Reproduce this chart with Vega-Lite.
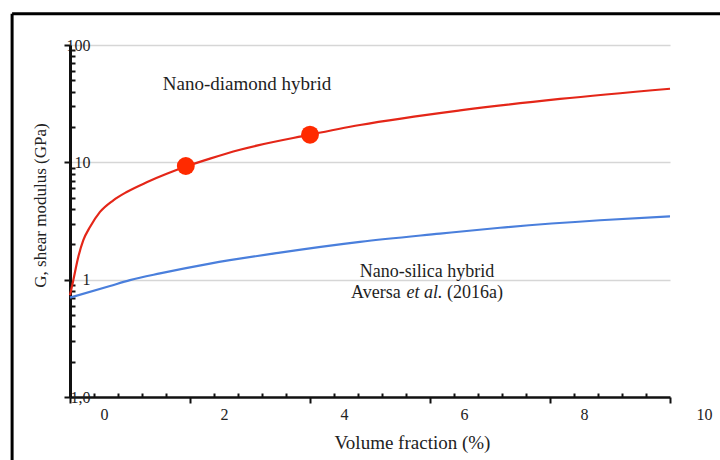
{
  "$schema": "https://vega.github.io/schema/vega-lite/v6.json",
  "width": 600,
  "height": 352,
  "autosize": {"type": "none"},
  "padding": {"left": 70, "top": 45, "right": 50, "bottom": 63},
  "background": "white",
  "config": {"view": {"stroke": null}, "font": "Liberation Serif"},
  "datasets": {
    "curves": [
      {"series": "Nano-diamond hybrid", "x": 0, "G": 0.738},
      {"series": "Nano-diamond hybrid", "x": 0.055, "G": 0.99},
      {"series": "Nano-diamond hybrid", "x": 0.138, "G": 1.56},
      {"series": "Nano-diamond hybrid", "x": 0.222, "G": 2.17},
      {"series": "Nano-diamond hybrid", "x": 0.333, "G": 2.81},
      {"series": "Nano-diamond hybrid", "x": 0.5, "G": 3.78},
      {"series": "Nano-diamond hybrid", "x": 0.722, "G": 4.75},
      {"series": "Nano-diamond hybrid", "x": 0.945, "G": 5.59},
      {"series": "Nano-diamond hybrid", "x": 1.278, "G": 6.76},
      {"series": "Nano-diamond hybrid", "x": 1.612, "G": 7.98},
      {"series": "Nano-diamond hybrid", "x": 1.945, "G": 9.25},
      {"series": "Nano-diamond hybrid", "x": 2.333, "G": 10.75},
      {"series": "Nano-diamond hybrid", "x": 2.833, "G": 12.8},
      {"series": "Nano-diamond hybrid", "x": 4.0, "G": 17.2},
      {"series": "Nano-diamond hybrid", "x": 4.833, "G": 20.8},
      {"series": "Nano-diamond hybrid", "x": 6.5, "G": 27.7},
      {"series": "Nano-diamond hybrid", "x": 8.167, "G": 34.7},
      {"series": "Nano-diamond hybrid", "x": 10, "G": 42.4},
      {"series": "Nano-silica hybrid", "x": 0, "G": 0.703},
      {"series": "Nano-silica hybrid", "x": 0.667, "G": 0.883},
      {"series": "Nano-silica hybrid", "x": 1.0, "G": 0.99},
      {"series": "Nano-silica hybrid", "x": 1.5, "G": 1.13},
      {"series": "Nano-silica hybrid", "x": 2.333, "G": 1.37},
      {"series": "Nano-silica hybrid", "x": 3.5, "G": 1.7},
      {"series": "Nano-silica hybrid", "x": 4.833, "G": 2.1},
      {"series": "Nano-silica hybrid", "x": 6.167, "G": 2.47},
      {"series": "Nano-silica hybrid", "x": 7.167, "G": 2.77},
      {"series": "Nano-silica hybrid", "x": 8.833, "G": 3.21},
      {"series": "Nano-silica hybrid", "x": 10, "G": 3.47}
    ],
    "markers": [
      {"x": 1.93, "G": 9.3},
      {"x": 4.0, "G": 17.2}
    ],
    "labels": [
      {"label": "Nano-diamond hybrid", "x": 2.95, "G": 46.9}
    ],
    "labels2": [
      {"label": "Nano-silica hybrid", "x": 5.95, "G": 1.158}
    ],
    "cite": [
      {"label": "Aversa", "x": 4.683, "G": 0.768},
      {"label": "(2016a)", "x": 6.283, "G": 0.768}
    ],
    "citeItalic": [
      {"label": "et al.", "x": 5.608, "G": 0.768}
    ]
  },
  "layer": [
    {
      "encoding": {
        "x": {
          "field": "x",
          "type": "quantitative",
          "scale": {"domain": [0, 10], "nice": false, "zero": false},
          "axis": {
            "title": "Volume fraction (%)",
            "values": [0, 0.4, 0.8, 1.2, 1.6, 2, 2.4, 2.8, 3.2, 3.6, 4, 4.4, 4.8, 5.2, 5.6, 6, 6.4, 6.8, 7.2, 7.6, 8, 8.4, 8.8, 9.2, 9.6, 10],
            "labelExpr": "abs(datum.value / 2 - round(datum.value / 2)) < 0.01 ? format(datum.value, 'd') : ''",
            "labelOffset": 34,
            "labelFlush": false,
            "labelOverlap": false,
            "labelFont": "Liberation Serif",
            "labelFontSize": 16,
            "labelColor": "#222222",
            "labelPadding": 3,
            "tickSize": {"condition": {"test": "abs(datum.value / 2 - round(datum.value / 2)) < 0.01", "value": 6}, "value": -4},
            "tickColor": "#111111",
            "tickWidth": 2,
            "domainColor": "#111111",
            "domainWidth": 2.5,
            "grid": false,
            "titleFont": "Liberation Serif",
            "titleFontSize": 19,
            "titleFontWeight": "normal",
            "titleColor": "#222222",
            "titleX": 342,
            "titleY": 45,
            "titleBaseline": "middle",
            "titleAlign": "center"
          }
        },
        "y": {
          "field": "G",
          "type": "quantitative",
          "scale": {"type": "log", "domain": [0.1, 100], "nice": false},
          "axis": {
            "title": "G, shear modulus (GPa)",
            "values": [0.1, 0.2, 0.3, 0.4, 0.5, 0.6, 0.7, 0.8, 0.9, 1, 2, 3, 4, 5, 6, 7, 8, 9, 10, 20, 30, 40, 50, 60, 70, 80, 90, 100],
            "labelExpr": "datum.value == 100 ? '100' : datum.value == 10 ? '10' : datum.value == 1 ? '1' : datum.value == 0.1 ? '1,0' : ''",
            "labelAlign": "right",
            "labelBaseline": "middle",
            "labelPadding": -26,
            "labelFlush": false,
            "labelOverlap": false,
            "labelFont": "Liberation Serif",
            "labelFontSize": 16,
            "labelColor": "#222222",
            "tickSize": {"condition": {"test": "datum.value == 0.1 || datum.value == 1 || datum.value == 10 || datum.value == 100", "value": 6}, "value": -5},
            "tickColor": "#111111",
            "tickWidth": 2,
            "domainColor": "#111111",
            "domainWidth": 3,
            "grid": true,
            "gridColor": "#d6d6d6",
            "gridWidth": 1.5,
            "gridOpacity": {"condition": {"test": "datum.value == 1 || datum.value == 10 || datum.value == 100", "value": 1}, "value": 0},
            "titleFont": "Liberation Serif",
            "titleFontSize": 17,
            "titleFontWeight": "normal",
            "titleColor": "#222222",
            "titleX": -30,
            "titleY": 160,
            "titleBaseline": "middle",
            "titleAlign": "center"
          }
        }
      },
      "layer": [
        {
          "data": {"name": "curves"},
          "mark": {"type": "line", "interpolate": "monotone", "strokeWidth": 2.2},
          "encoding": {
            "color": {
              "field": "series",
              "type": "nominal",
              "scale": {"domain": ["Nano-diamond hybrid", "Nano-silica hybrid"], "range": ["#e42618", "#4a7fdc"]},
              "legend": null
            }
          }
        },
        {
          "data": {"name": "markers"},
          "mark": {"type": "circle", "size": 320, "color": "#ff2a00", "opacity": 1}
        },
        {
          "data": {"name": "labels"},
          "mark": {"type": "text", "font": "Liberation Serif", "fontSize": 19, "color": "#1e1e1e", "align": "center", "baseline": "middle"},
          "encoding": {"text": {"field": "label", "type": "nominal"}}
        },
        {
          "data": {"name": "labels2"},
          "mark": {"type": "text", "font": "Liberation Serif", "fontSize": 18, "color": "#1e1e1e", "align": "center", "baseline": "middle"},
          "encoding": {"text": {"field": "label", "type": "nominal"}}
        },
        {
          "data": {"name": "cite"},
          "mark": {"type": "text", "font": "Liberation Serif", "fontSize": 18, "color": "#1e1e1e", "align": "left", "baseline": "middle"},
          "encoding": {"text": {"field": "label", "type": "nominal"}}
        },
        {
          "data": {"name": "citeItalic"},
          "mark": {"type": "text", "font": "Liberation Serif", "fontSize": 18, "fontStyle": "italic", "color": "#1e1e1e", "align": "left", "baseline": "middle"},
          "encoding": {"text": {"field": "label", "type": "nominal"}}
        }
      ]
    },
    {
      "data": {"values": [{"edge": "frame"}]},
      "encoding": {
        "x": {
          "datum": -0.965,
          "type": "quantitative",
          "scale": {"domain": [0, 10], "nice": false, "zero": false},
          "axis": {
            "title": "Volume fraction (%)",
            "values": [0, 0.4, 0.8, 1.2, 1.6, 2, 2.4, 2.8, 3.2, 3.6, 4, 4.4, 4.8, 5.2, 5.6, 6, 6.4, 6.8, 7.2, 7.6, 8, 8.4, 8.8, 9.2, 9.6, 10],
            "labelExpr": "abs(datum.value / 2 - round(datum.value / 2)) < 0.01 ? format(datum.value, 'd') : ''",
            "labelOffset": 34,
            "labelFlush": false,
            "labelOverlap": false,
            "labelFont": "Liberation Serif",
            "labelFontSize": 16,
            "labelColor": "#222222",
            "labelPadding": 3,
            "tickSize": {"condition": {"test": "abs(datum.value / 2 - round(datum.value / 2)) < 0.01", "value": 6}, "value": -4},
            "tickColor": "#111111",
            "tickWidth": 2,
            "domainColor": "#111111",
            "domainWidth": 2.5,
            "grid": false,
            "titleFont": "Liberation Serif",
            "titleFontSize": 19,
            "titleFontWeight": "normal",
            "titleColor": "#222222",
            "titleX": 342,
            "titleY": 45,
            "titleBaseline": "middle",
            "titleAlign": "center"
          }
        },
        "y": {
          "datum": 185,
          "type": "quantitative",
          "scale": {"type": "log", "domain": [0.1, 100], "nice": false},
          "axis": {
            "title": "G, shear modulus (GPa)",
            "values": [0.1, 0.2, 0.3, 0.4, 0.5, 0.6, 0.7, 0.8, 0.9, 1, 2, 3, 4, 5, 6, 7, 8, 9, 10, 20, 30, 40, 50, 60, 70, 80, 90, 100],
            "labelExpr": "datum.value == 100 ? '100' : datum.value == 10 ? '10' : datum.value == 1 ? '1' : datum.value == 0.1 ? '1,0' : ''",
            "labelAlign": "right",
            "labelBaseline": "middle",
            "labelPadding": -26,
            "labelFlush": false,
            "labelOverlap": false,
            "labelFont": "Liberation Serif",
            "labelFontSize": 16,
            "labelColor": "#222222",
            "tickSize": {"condition": {"test": "datum.value == 0.1 || datum.value == 1 || datum.value == 10 || datum.value == 100", "value": 6}, "value": -5},
            "tickColor": "#111111",
            "tickWidth": 2,
            "domainColor": "#111111",
            "domainWidth": 3,
            "grid": true,
            "gridColor": "#d6d6d6",
            "gridWidth": 1.5,
            "gridOpacity": {"condition": {"test": "datum.value == 1 || datum.value == 10 || datum.value == 100", "value": 1}, "value": 0},
            "titleFont": "Liberation Serif",
            "titleFontSize": 17,
            "titleFontWeight": "normal",
            "titleColor": "#222222",
            "titleX": -30,
            "titleY": 160,
            "titleBaseline": "middle",
            "titleAlign": "center"
          }
        }
      },
      "layer": [
        {
          "mark": {"type": "rule", "color": "#000000", "strokeWidth": 3, "clip": false},
          "encoding": {"y2": {"datum": 0.02}}
        },
        {
          "mark": {"type": "rule", "color": "#000000", "strokeWidth": 3, "clip": false},
          "encoding": {"x2": {"datum": 11.2}}
        }
      ]
    }
  ]
}
